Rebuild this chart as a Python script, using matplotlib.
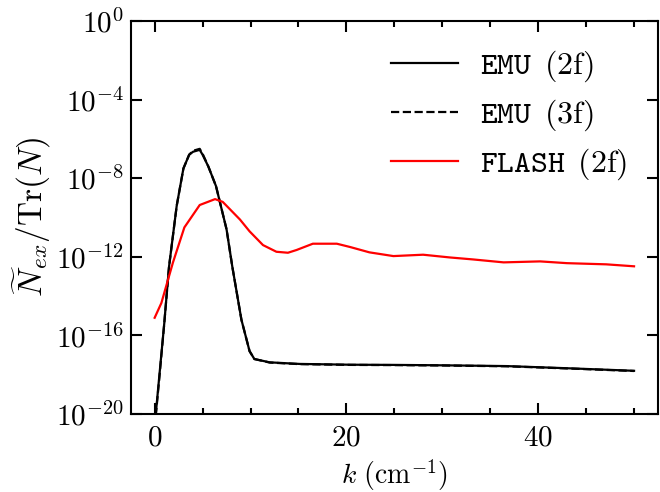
import numpy as np
import matplotlib
matplotlib.use("Agg")
import matplotlib.pyplot as plt
from matplotlib.ticker import FixedLocator, MultipleLocator, FuncFormatter

plt.rcParams["mathtext.fontset"] = "cm"
plt.rcParams["font.family"] = "serif"
plt.rcParams["font.serif"] = ["cmr10", "DejaVu Serif"]
plt.rcParams["axes.unicode_minus"] = False
plt.rcParams["axes.formatter.use_mathtext"] = True

# ---- data (log10 of N_ex / Tr(N)) ----
k_emu = [0.0, 0.5, 1.0, 1.5, 2.3, 3.0, 3.6, 4.0, 4.7, 5.0, 5.6, 6.4, 7.5,
         8.1, 9.05, 9.9, 10.4, 12.0, 15.1, 20.4, 25.0, 30.0, 36.7, 43.6, 50.0]
log_emu2 = [-20.6, -18.0, -15.4, -12.5, -9.4, -7.5, -6.8, -6.65, -6.55, -6.8,
            -7.4, -8.4, -10.6, -12.5, -15.2, -16.8, -17.2, -17.37, -17.45,
            -17.49, -17.5, -17.52, -17.56, -17.68, -17.8]
log_emu3 = [-20.7, -18.1, -15.4, -12.5, -9.4, -7.5, -6.8, -6.6, -6.5, -6.75,
            -7.4, -8.4, -10.6, -12.5, -15.2, -16.8, -17.2, -17.38, -17.46,
            -17.5, -17.51, -17.53, -17.57, -17.69, -17.81]

k_flash = [0.0, 0.7, 1.9, 3.1, 4.7, 6.3, 7.1, 8.9, 9.9, 11.3, 12.7, 13.9,
           14.8, 16.5, 19.0, 20.4, 22.4, 24.9, 28.0, 30.8, 33.2, 36.4, 40.2,
           43.0, 47.1, 50.0]
log_flash = [-15.1, -14.35, -12.3, -10.5, -9.36, -9.06, -9.2, -10.1, -10.7,
             -11.4, -11.74, -11.79, -11.65, -11.33, -11.33, -11.5, -11.77,
             -11.96, -11.89, -12.03, -12.13, -12.28, -12.23, -12.32, -12.38,
             -12.48]

labels = [r"$\mathtt{EMU}\ \,(2\mathrm{f})$",
          r"$\mathtt{EMU}\ \,(3\mathrm{f})$",
          r"$\mathtt{FLASH}\ \,(2\mathrm{f})$"]

y_major = [1e0, 1e-4, 1e-8, 1e-12, 1e-16, 1e-20]

fig = plt.figure(figsize=(6.6, 4.92), dpi=100)
ax = fig.add_axes([0.198, 0.1585, 0.799, 0.7985])

ax.semilogy(k_emu, 10.0 ** np.array(log_emu2), color="black", lw=1.6,
            label=labels[0])
ax.semilogy(k_emu, 10.0 ** np.array(log_emu3), color="black", lw=1.6,
            ls="--", label=labels[1])
ax.semilogy(k_flash, 10.0 ** np.array(log_flash), color="red", lw=1.6,
            label=labels[2])

ax.set_xlim(-2.5, 52.5)
ax.set_ylim(1e-20, 1e0)

ax.xaxis.set_major_locator(MultipleLocator(20))
ax.xaxis.set_minor_locator(MultipleLocator(5))
ax.xaxis.set_major_formatter(FuncFormatter(lambda v, p: r"$%d$" % v))
ax.yaxis.set_major_locator(FixedLocator(y_major))
ax.yaxis.set_minor_locator(FixedLocator([]))
ax.yaxis.set_major_formatter(
    FuncFormatter(lambda v, p: r"$10^{%d}$" % round(np.log10(v))))

ax.tick_params(which="both", direction="in", top=True, right=True,
               labelsize=21, width=1.5)
ax.tick_params(which="major", length=8)
ax.tick_params(axis="y", which="major", pad=5)
ax.tick_params(axis="x", which="major", pad=8)
ax.tick_params(which="minor", length=4)
for s in ax.spines.values():
    s.set_linewidth(1.5)

ax.set_xlabel(r"$k\ (\mathrm{cm}^{-1})$", fontsize=20, labelpad=4)
ax.set_ylabel(r"$\widetilde{N}_{ex}/\mathrm{Tr}(N)$", fontsize=24, labelpad=2)

ax.legend(loc="upper right", frameon=False, fontsize=23, handlelength=2.1,
          handletextpad=0.7, labelspacing=0.42, borderpad=0.4,
          borderaxespad=0, bbox_to_anchor=(0.966, 0.962))

fig.savefig("out.png", dpi=100)
